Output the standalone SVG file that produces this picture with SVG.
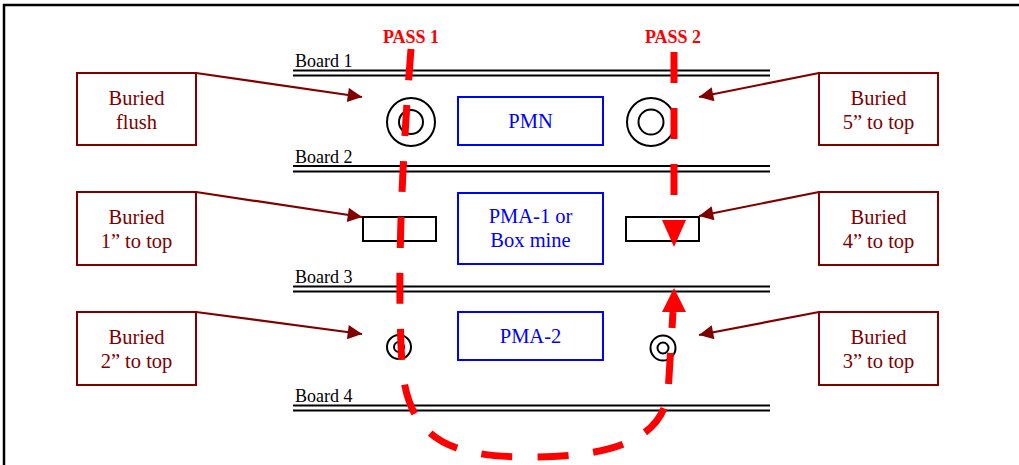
<svg xmlns="http://www.w3.org/2000/svg" width="1019" height="465" viewBox="0 0 1019 465">
<defs>
<style>
.frame{stroke:#000;stroke-width:2.5;fill:none}
.board{stroke:#000;stroke-width:2.2}
.blabel{font-family:"Liberation Serif","Times New Roman",serif;font-size:18px;fill:#000}
.lbox{fill:#fff;stroke:#800000;stroke-width:2}
.ltext{font-family:"Liberation Serif","Times New Roman",serif;font-size:20.5px;fill:#800000;text-anchor:middle}
.mbox{fill:#fff;stroke:#0000ff;stroke-width:2}
.mtext{font-family:"Liberation Serif","Times New Roman",serif;font-size:20.5px;fill:#0000ff;text-anchor:middle}
.obj{fill:none;stroke:#000;stroke-width:2}
.conn{stroke:#800000;stroke-width:2.2;fill:none;marker-end:url(#ah)}
.pass{stroke:#ff0000;stroke-width:7;fill:none;stroke-dasharray:31 25}
.ptext{font-family:"Liberation Serif","Times New Roman",serif;font-size:18px;font-weight:bold;fill:#ff0000;text-anchor:middle}
</style>
<marker id="ah" viewBox="0 0 10 10" refX="10" refY="5" markerWidth="8.5" markerHeight="6.5" markerUnits="strokeWidth" orient="auto">
<path d="M0,0 L10,5 L0,10 z" fill="#800000"/>
</marker>
</defs>
<rect width="1019" height="465" fill="#fff"/>
<path class="frame" d="M4,465 L4,5 L1019,5"/>

<g id="boards">
<g id="board1"><line class="board" x1="293" y1="70.5" x2="770" y2="70.5"/><line class="board" x1="293" y1="75.5" x2="770" y2="75.5"/><text class="blabel" x="295" y="67">Board 1</text></g>
<g id="board2"><line class="board" x1="293" y1="166" x2="770" y2="166"/><line class="board" x1="293" y1="171.5" x2="770" y2="171.5"/><text class="blabel" x="295" y="162.5">Board 2</text></g>
<g id="board3"><line class="board" x1="293" y1="286.5" x2="770" y2="286.5"/><line class="board" x1="293" y1="291.5" x2="770" y2="291.5"/><text class="blabel" x="295" y="283">Board 3</text></g>
<g id="board4"><line class="board" x1="293" y1="405.5" x2="770" y2="405.5"/><line class="board" x1="293" y1="410.5" x2="770" y2="410.5"/><text class="blabel" x="295" y="401.5">Board 4</text></g>
</g>

<g id="objects">
<g id="mine-flush"><circle class="obj" cx="411" cy="122" r="24"/><circle class="obj" cx="411" cy="122" r="12"/></g>
<g id="mine-5in"><circle class="obj" cx="651" cy="122" r="24"/><circle class="obj" cx="651" cy="122" r="12.5"/></g>
<g id="mine-1in"><rect class="obj" x="363" y="217" width="73" height="24"/></g>
<g id="mine-4in"><rect class="obj" x="626" y="217" width="73" height="24"/></g>
<g id="mine-2in"><circle class="obj" cx="399" cy="347" r="12"/><circle class="obj" cx="399" cy="347" r="5"/></g>
<g id="mine-3in"><circle class="obj" cx="663" cy="348" r="12.5"/><circle class="obj" cx="663" cy="348" r="5.5"/></g>
</g>

<g id="pmn"><rect class="mbox" x="458" y="97" width="145" height="48"/><text class="mtext" x="530.5" y="128">PMN</text></g>
<g id="pma1"><rect class="mbox" x="458" y="193" width="145" height="71"/><text class="mtext" x="530.5" y="223">PMA-1 or</text><text class="mtext" x="530.5" y="247">Box mine</text></g>
<g id="pma2"><rect class="mbox" x="458" y="312" width="145" height="48"/><text class="mtext" x="530.5" y="343">PMA-2</text></g>

<g id="label-flush"><rect class="lbox" x="77" y="73" width="119" height="72"/><text class="ltext" x="136.5" y="105">Buried</text><text class="ltext" x="136.5" y="129">flush</text></g>
<g id="label-1in"><rect class="lbox" x="77" y="192" width="119" height="73"/><text class="ltext" x="136.5" y="224">Buried</text><text class="ltext" x="136.5" y="248">1” to top</text></g>
<g id="label-2in"><rect class="lbox" x="77" y="312" width="119" height="73"/><text class="ltext" x="136.5" y="344">Buried</text><text class="ltext" x="136.5" y="368">2” to top</text></g>
<g id="label-5in"><rect class="lbox" x="819" y="73" width="119" height="72"/><text class="ltext" x="878.5" y="105">Buried</text><text class="ltext" x="878.5" y="129">5” to top</text></g>
<g id="label-4in"><rect class="lbox" x="819" y="192" width="119" height="73"/><text class="ltext" x="878.5" y="224">Buried</text><text class="ltext" x="878.5" y="248">4” to top</text></g>
<g id="label-3in"><rect class="lbox" x="819" y="312" width="119" height="73"/><text class="ltext" x="878.5" y="344">Buried</text><text class="ltext" x="878.5" y="368">3” to top</text></g>

<g id="connectors">
<line class="conn" x1="196" y1="73" x2="362" y2="97"/>
<line class="conn" x1="196" y1="192" x2="362" y2="217"/>
<line class="conn" x1="196" y1="312" x2="362" y2="334"/>
<line class="conn" x1="819" y1="73" x2="699" y2="97"/>
<line class="conn" x1="819" y1="192" x2="699" y2="216"/>
<line class="conn" x1="819" y1="312" x2="699" y2="335"/>
</g>

<g id="pass1">
<text class="ptext" x="411" y="43">PASS 1</text>
<path class="pass" d="M411,49 Q395,250 402,365 C408,440 450,457 530,457 C610,457 662,440 668,393 L673,312"/>
<polygon points="674,288 662,312 686,312" fill="#ff0000"/>
</g>
<g id="pass2">
<text class="ptext" x="673" y="43">PASS 2</text>
<path class="pass" d="M674,52 L674,222"/>
<polygon points="674,247 662,220 686,220" fill="#ff0000"/>
</g>
</svg>
